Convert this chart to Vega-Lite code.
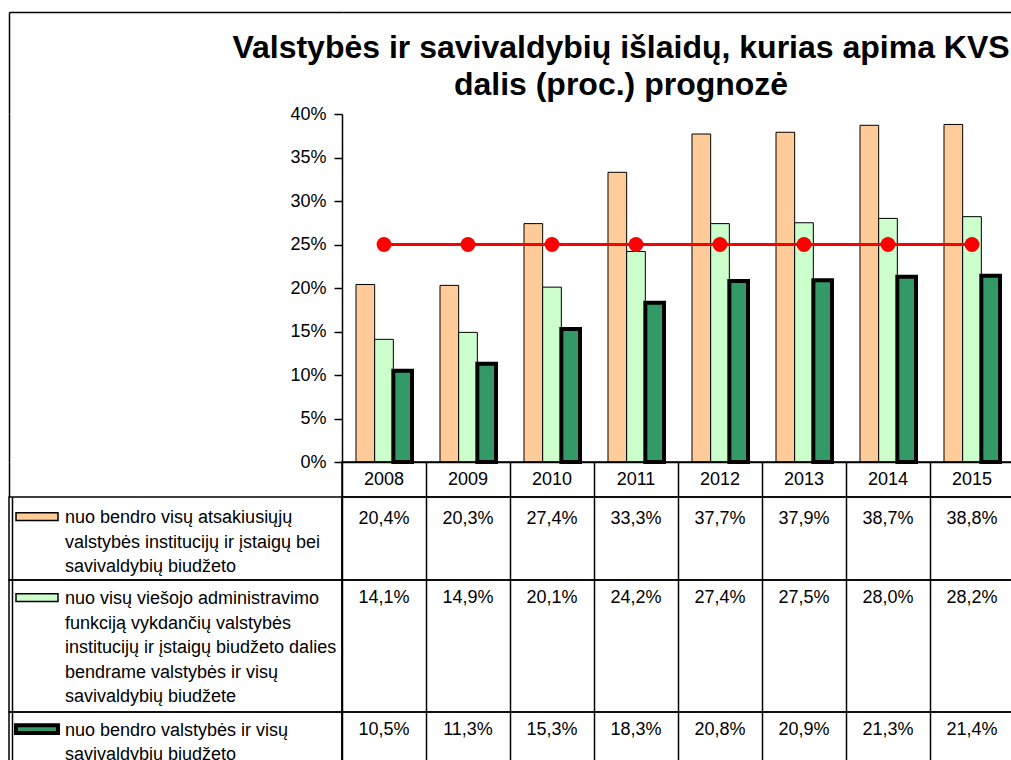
{
  "$schema": "https://vega.github.io/schema/vega-lite/v6.json",
  "padding": {"left": 8, "top": 12, "right": 0, "bottom": 0},
  "background": "white",
  "datasets": {
    "bars": [
      {"year": "2008", "series": "nuo bendro visų atsakiusiųjų\nvalstybės institucijų ir įstaigų bei\nsavivaldybių biudžeto", "value": 0.204},
      {"year": "2009", "series": "nuo bendro visų atsakiusiųjų\nvalstybės institucijų ir įstaigų bei\nsavivaldybių biudžeto", "value": 0.203},
      {"year": "2010", "series": "nuo bendro visų atsakiusiųjų\nvalstybės institucijų ir įstaigų bei\nsavivaldybių biudžeto", "value": 0.274},
      {"year": "2011", "series": "nuo bendro visų atsakiusiųjų\nvalstybės institucijų ir įstaigų bei\nsavivaldybių biudžeto", "value": 0.333},
      {"year": "2012", "series": "nuo bendro visų atsakiusiųjų\nvalstybės institucijų ir įstaigų bei\nsavivaldybių biudžeto", "value": 0.377},
      {"year": "2013", "series": "nuo bendro visų atsakiusiųjų\nvalstybės institucijų ir įstaigų bei\nsavivaldybių biudžeto", "value": 0.379},
      {"year": "2014", "series": "nuo bendro visų atsakiusiųjų\nvalstybės institucijų ir įstaigų bei\nsavivaldybių biudžeto", "value": 0.387},
      {"year": "2015", "series": "nuo bendro visų atsakiusiųjų\nvalstybės institucijų ir įstaigų bei\nsavivaldybių biudžeto", "value": 0.388},
      {"year": "2008", "series": "nuo visų viešojo administravimo\nfunkciją vykdančių valstybės\ninstitucijų ir įstaigų biudžeto dalies\nbendrame valstybės ir visų\nsavivaldybių biudžete", "value": 0.141},
      {"year": "2009", "series": "nuo visų viešojo administravimo\nfunkciją vykdančių valstybės\ninstitucijų ir įstaigų biudžeto dalies\nbendrame valstybės ir visų\nsavivaldybių biudžete", "value": 0.149},
      {"year": "2010", "series": "nuo visų viešojo administravimo\nfunkciją vykdančių valstybės\ninstitucijų ir įstaigų biudžeto dalies\nbendrame valstybės ir visų\nsavivaldybių biudžete", "value": 0.201},
      {"year": "2011", "series": "nuo visų viešojo administravimo\nfunkciją vykdančių valstybės\ninstitucijų ir įstaigų biudžeto dalies\nbendrame valstybės ir visų\nsavivaldybių biudžete", "value": 0.242},
      {"year": "2012", "series": "nuo visų viešojo administravimo\nfunkciją vykdančių valstybės\ninstitucijų ir įstaigų biudžeto dalies\nbendrame valstybės ir visų\nsavivaldybių biudžete", "value": 0.274},
      {"year": "2013", "series": "nuo visų viešojo administravimo\nfunkciją vykdančių valstybės\ninstitucijų ir įstaigų biudžeto dalies\nbendrame valstybės ir visų\nsavivaldybių biudžete", "value": 0.275},
      {"year": "2014", "series": "nuo visų viešojo administravimo\nfunkciją vykdančių valstybės\ninstitucijų ir įstaigų biudžeto dalies\nbendrame valstybės ir visų\nsavivaldybių biudžete", "value": 0.280},
      {"year": "2015", "series": "nuo visų viešojo administravimo\nfunkciją vykdančių valstybės\ninstitucijų ir įstaigų biudžeto dalies\nbendrame valstybės ir visų\nsavivaldybių biudžete", "value": 0.282},
      {"year": "2008", "series": "nuo bendro valstybės ir visų\nsavivaldybių biudžeto", "value": 0.105},
      {"year": "2009", "series": "nuo bendro valstybės ir visų\nsavivaldybių biudžeto", "value": 0.113},
      {"year": "2010", "series": "nuo bendro valstybės ir visų\nsavivaldybių biudžeto", "value": 0.153},
      {"year": "2011", "series": "nuo bendro valstybės ir visų\nsavivaldybių biudžeto", "value": 0.183},
      {"year": "2012", "series": "nuo bendro valstybės ir visų\nsavivaldybių biudžeto", "value": 0.208},
      {"year": "2013", "series": "nuo bendro valstybės ir visų\nsavivaldybių biudžeto", "value": 0.209},
      {"year": "2014", "series": "nuo bendro valstybės ir visų\nsavivaldybių biudžeto", "value": 0.213},
      {"year": "2015", "series": "nuo bendro valstybės ir visų\nsavivaldybių biudžeto", "value": 0.214}
    ],
    "target": [
      {"year": "2008", "target": 0.25},
      {"year": "2009", "target": 0.25},
      {"year": "2010", "target": 0.25},
      {"year": "2011", "target": 0.25},
      {"year": "2012", "target": 0.25},
      {"year": "2013", "target": 0.25},
      {"year": "2014", "target": 0.25},
      {"year": "2015", "target": 0.25}
    ]
  },
  "columns": 2,
  "align": "each",
  "bounds": "flush",
  "spacing": 0,
  "resolve": {"scale": {"x": "independent", "y": "independent", "xOffset": "independent", "fill": "shared"}},
  "concat": [
    {
      "width": 333, "height": 102,
      "data": {"name": "target"},
      "mark": {"type": "point", "opacity": 0},
      "encoding": {
        "x": {"field": "year", "type": "ordinal", "axis": {"orient": "top", "domain": true, "domainColor": "black", "domainWidth": 1.5, "labels": false, "ticks": false, "grid": false, "title": null}},
        "y": {"field": "target", "type": "quantitative", "axis": {"domain": true, "domainColor": "black", "domainWidth": 1.5, "labels": false, "ticks": false, "grid": false, "title": null}}
      }
    },
    {
      "width": 672, "height": 102,
      "title": {
        "text": ["Valstybės ir savivaldybių išlaidų, kurias apima KVS", "dalis (proc.) prognozė"],
        "orient": "top", "anchor": "middle", "frame": "group",
        "font": "Liberation Sans", "fontSize": 32, "fontWeight": "bold", "color": "black",
        "lineHeight": 37, "offset": -90, "dx": -57
      },
      "data": {"name": "target"},
      "mark": {"type": "point", "opacity": 0},
      "encoding": {
        "x": {"field": "year", "type": "ordinal", "axis": {"orient": "top", "domain": true, "domainColor": "black", "domainWidth": 1.5, "labels": false, "ticks": false, "grid": false, "title": null}}
      }
    },
    {
      "width": 333, "height": 348,
      "data": {"name": "target"},
      "mark": {"type": "point", "opacity": 0},
      "encoding": {
        "y": {"field": "target", "type": "quantitative", "axis": {"domain": true, "domainColor": "black", "domainWidth": 1.5, "labels": false, "ticks": false, "grid": false, "title": null}}
      }
    },
    {
      "width": 672, "height": 348,
      "layer": [
        {
          "data": {"name": "bars"},
          "mark": {"type": "bar", "stroke": "black"},
          "encoding": {
            "x": {"field": "year", "type": "ordinal", "scale": {"paddingInner": 0, "paddingOuter": 0},
                  "axis": {"title": null, "labels": false, "ticks": false, "grid": false, "domain": true, "domainColor": "black", "domainWidth": 1.5}},
            "xOffset": {"field": "series", "type": "nominal",
                        "scale": {"domain": ["nuo bendro visų atsakiusiųjų\nvalstybės institucijų ir įstaigų bei\nsavivaldybių biudžeto", "nuo visų viešojo administravimo\nfunkciją vykdančių valstybės\ninstitucijų ir įstaigų biudžeto dalies\nbendrame valstybės ir visų\nsavivaldybių biudžete", "nuo bendro valstybės ir visų\nsavivaldybių biudžeto"], "paddingInner": 0, "paddingOuter": 0.75}},
            "y": {"field": "value", "type": "quantitative", "scale": {"domain": [0, 0.4], "nice": false},
                  "axis": {"title": null, "grid": false, "values": [0, 0.05, 0.1, 0.15, 0.2, 0.25, 0.3, 0.35, 0.4], "format": ".0%",
                           "tickSize": 8, "labelPadding": 8, "tickColor": "black", "tickWidth": 1.5, "domainColor": "black", "domainWidth": 1.5,
                           "labelFontSize": 18, "labelColor": "black", "labelFont": "Liberation Sans"}},
            "fill": {"field": "series", "type": "nominal",
                     "scale": {"domain": ["nuo bendro visų atsakiusiųjų\nvalstybės institucijų ir įstaigų bei\nsavivaldybių biudžeto", "nuo visų viešojo administravimo\nfunkciją vykdančių valstybės\ninstitucijų ir įstaigų biudžeto dalies\nbendrame valstybės ir visų\nsavivaldybių biudžete", "nuo bendro valstybės ir visų\nsavivaldybių biudžeto"],
                               "range": ["#FFCC99", "#CCFFCC", "#339966"]},
                     "legend": {
                       "orient": "none", "legendX": 4.5, "legendY": 483, "title": null, "padding": 0,
                       "symbolType": "M-0.981,0.29H2.189V0.86H-0.981Z", "symbolSize": 702, "symbolStrokeColor": "black", "symbolStrokeWidth": 1.5, "symbolOpacity": 1,
                       "labelFont": "Liberation Sans", "labelFontSize": 18, "labelColor": "black", "labelLimit": 500,
                       "labelOffset": 20.5, "labelBaseline": "top", "rowPadding": 0,
                       "labelExpr": "split(datum.label, '\\n')",
                       "encode": {
                         "labels": {"update": {"lineHeight": {"value": 24.5}}},
                         "symbols": {"update": {"strokeWidth": {"signal": "(indexof(isString(datum) ? datum : datum.value, 'nuo bendro valstybės') === 0 ? 4 : 1.5)"}}}
                       }
                     }},
            "strokeWidth": {"condition": {"test": "indexof(datum.series, 'nuo bendro valstybės') === 0", "value": 4}, "value": 1}
          }
        },
        {
          "data": {"name": "target"},
          "mark": {"type": "line", "color": "#FF0000", "strokeWidth": 3,
                   "point": {"filled": true, "size": 220, "color": "#FF0000", "opacity": 1}},
          "encoding": {
            "x": {"field": "year", "type": "ordinal"},
            "y": {"field": "target", "type": "quantitative"}
          }
        }
      ]
    },
    {
      "width": 333, "height": 35,
      "data": {"name": "target"},
      "mark": {"type": "point", "opacity": 0},
      "encoding": {
        "y": {"field": "target", "type": "quantitative", "axis": {"domain": true, "domainColor": "black", "domainWidth": 1.5, "labels": false, "ticks": false, "grid": false, "title": null}}
      }
    },
    {
      "width": 672, "height": 35,
      "view": {"stroke": "black", "strokeWidth": 1.5},
      "data": {"name": "target"},
      "mark": {"type": "text", "baseline": "middle", "fontSize": 18, "color": "black", "font": "Liberation Sans"},
      "encoding": {
        "x": {"field": "year", "type": "ordinal", "scale": {"type": "band", "paddingInner": 0, "paddingOuter": 0},
              "axis": {"orient": "top", "grid": true, "tickBand": "extent", "gridColor": "black", "gridWidth": 1.5, "gridOpacity": 1, "labels": false, "ticks": false, "domain": false, "title": null}},
        "text": {"field": "year", "type": "nominal"}
      }
    },
    {
      "width": 333, "height": 83,
      "view": {"stroke": "black", "strokeWidth": 1.5},
      "data": {"name": "target"},
      "mark": {"type": "point", "opacity": 0},
      "encoding": {
        "y": {"field": "target", "type": "quantitative", "axis": {"offset": -3, "domain": true, "domainColor": "black", "domainWidth": 1.5, "labels": false, "ticks": false, "grid": false, "title": null}}
      }
    },
    {
      "width": 672, "height": 83,
      "view": {"stroke": "black", "strokeWidth": 1.5},
      "data": {"name": "bars"},
      "transform": [{"filter": {"field": "series", "equal": "nuo bendro visų atsakiusiųjų\nvalstybės institucijų ir įstaigų bei\nsavivaldybių biudžeto"}}],
      "mark": {"type": "text", "baseline": "top", "dy": 13, "fontSize": 18, "color": "black", "font": "Liberation Sans"},
      "encoding": {
        "x": {"field": "year", "type": "ordinal", "scale": {"type": "band", "paddingInner": 0, "paddingOuter": 0},
              "axis": {"orient": "top", "grid": true, "tickBand": "extent", "gridColor": "black", "gridWidth": 1.5, "gridOpacity": 1, "labels": false, "ticks": false, "domain": false, "title": null}},
        "y": {"field": "series", "type": "nominal", "scale": {"type": "band", "paddingInner": 0, "paddingOuter": 0}, "bandPosition": 0, "axis": null},
        "text": {"field": "value", "type": "quantitative", "format": ".1%"}
      }
    },
    {
      "width": 333, "height": 132,
      "view": {"stroke": "black", "strokeWidth": 1.5},
      "data": {"name": "target"},
      "mark": {"type": "point", "opacity": 0},
      "encoding": {
        "y": {"field": "target", "type": "quantitative", "axis": {"offset": -3, "domain": true, "domainColor": "black", "domainWidth": 1.5, "labels": false, "ticks": false, "grid": false, "title": null}}
      }
    },
    {
      "width": 672, "height": 132,
      "view": {"stroke": "black", "strokeWidth": 1.5},
      "data": {"name": "bars"},
      "transform": [{"filter": {"field": "series", "equal": "nuo visų viešojo administravimo\nfunkciją vykdančių valstybės\ninstitucijų ir įstaigų biudžeto dalies\nbendrame valstybės ir visų\nsavivaldybių biudžete"}}],
      "mark": {"type": "text", "baseline": "top", "dy": 9, "fontSize": 18, "color": "black", "font": "Liberation Sans"},
      "encoding": {
        "x": {"field": "year", "type": "ordinal", "scale": {"type": "band", "paddingInner": 0, "paddingOuter": 0},
              "axis": {"orient": "top", "grid": true, "tickBand": "extent", "gridColor": "black", "gridWidth": 1.5, "gridOpacity": 1, "labels": false, "ticks": false, "domain": false, "title": null}},
        "y": {"field": "series", "type": "nominal", "scale": {"type": "band", "paddingInner": 0, "paddingOuter": 0}, "bandPosition": 0, "axis": null},
        "text": {"field": "value", "type": "quantitative", "format": ".1%"}
      }
    },
    {
      "width": 333, "height": 85,
      "view": {"stroke": "black", "strokeWidth": 1.5},
      "data": {"name": "target"},
      "mark": {"type": "point", "opacity": 0},
      "encoding": {
        "y": {"field": "target", "type": "quantitative", "axis": {"offset": -3, "domain": true, "domainColor": "black", "domainWidth": 1.5, "labels": false, "ticks": false, "grid": false, "title": null}}
      }
    },
    {
      "width": 672, "height": 85,
      "view": {"stroke": "black", "strokeWidth": 1.5},
      "data": {"name": "bars"},
      "transform": [{"filter": {"field": "series", "equal": "nuo bendro valstybės ir visų\nsavivaldybių biudžeto"}}],
      "mark": {"type": "text", "baseline": "top", "dy": 9, "fontSize": 18, "color": "black", "font": "Liberation Sans"},
      "encoding": {
        "x": {"field": "year", "type": "ordinal", "scale": {"type": "band", "paddingInner": 0, "paddingOuter": 0},
              "axis": {"orient": "top", "grid": true, "tickBand": "extent", "gridColor": "black", "gridWidth": 1.5, "gridOpacity": 1, "labels": false, "ticks": false, "domain": false, "title": null}},
        "y": {"field": "series", "type": "nominal", "scale": {"type": "band", "paddingInner": 0, "paddingOuter": 0}, "bandPosition": 0, "axis": null},
        "text": {"field": "value", "type": "quantitative", "format": ".1%"}
      }
    }
  ],
  "config": {
    "font": "Liberation Sans",
    "view": {"stroke": null},
    "locale": {"number": {"decimal": ",", "thousands": " ", "grouping": [3], "currency": ["", " €"]}}
  }
}
